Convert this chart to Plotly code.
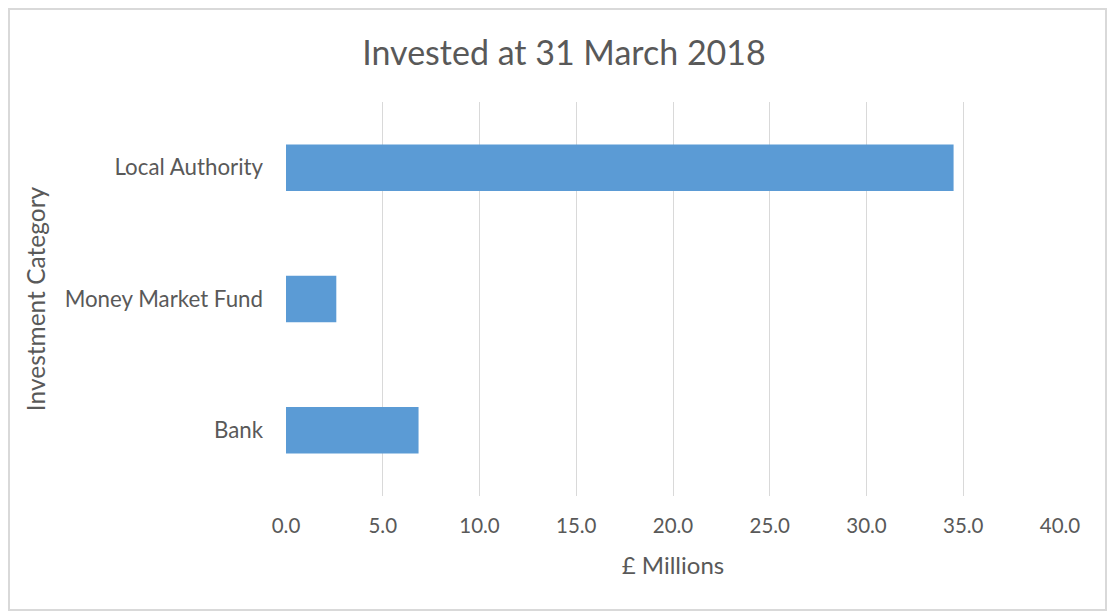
import plotly.graph_objects as go

categories = ["Bank", "Money Market Fund", "Local Authority"]
values = [6.85, 2.6, 34.5]
x_ticks = [0, 5, 10, 15, 20, 25, 30, 35, 40]
x_tick_labels = ["0.0", "5.0", "10.0", "15.0", "20.0", "25.0", "30.0", "35.0", "40.0"]

W, H = 1108, 612
ml, mr, mt, mb = 286, 48, 102, 116
pw, ph = W - ml - mr, H - mt - mb

font_family = "Lato, Open Sans, sans-serif"
grey = "#595959"

fig = go.Figure(go.Bar(
    y=categories, x=values, orientation="h",
    marker=dict(color="#5b9bd5", line=dict(width=0)),
))

# outer border around chart area
bx0, by0, bx1, by1 = 9, 9, 1106, 610
fig.add_shape(type="rect", xref="paper", yref="paper",
              x0=(bx0 - ml) / pw, x1=(bx1 - ml) / pw,
              y0=(H - by1 - mb) / ph, y1=(H - by0 - mb) / ph,
              line=dict(color="#d9d9d9", width=2), layer="below")

fig.update_layout(
    width=W, height=H,
    margin=dict(l=ml, r=mr, t=mt, b=mb, autoexpand=False),
    paper_bgcolor="white", plot_bgcolor="white",
    bargap=0.646,
    showlegend=False,
    title=dict(text="Invested at 31 March 2018", x=564 / W, xanchor="center",
               y=1 - 53 / H, yanchor="middle", yref="container",
               font=dict(family=font_family, size=34, color=grey)),
    font=dict(family=font_family, color=grey),
    xaxis=dict(range=[0, 40], tickvals=x_ticks, ticktext=x_tick_labels,
               showgrid=True, gridcolor="#d9d9d9", gridwidth=1,
               zeroline=False, showline=False, ticks="",
               ticklabelstandoff=15,
               tickfont=dict(size=20.5, color=grey),
               title=dict(text="£ Millions", font=dict(size=24, color=grey), standoff=21)),
    yaxis=dict(showgrid=False, zeroline=False, showline=False, ticks="",
               ticklabelstandoff=22,
               tickfont=dict(size=22.3, color=grey),
               title=dict(text="Investment Category", font=dict(size=24.5, color=grey), standoff=12)),
)

fig.write_html("out.html")
